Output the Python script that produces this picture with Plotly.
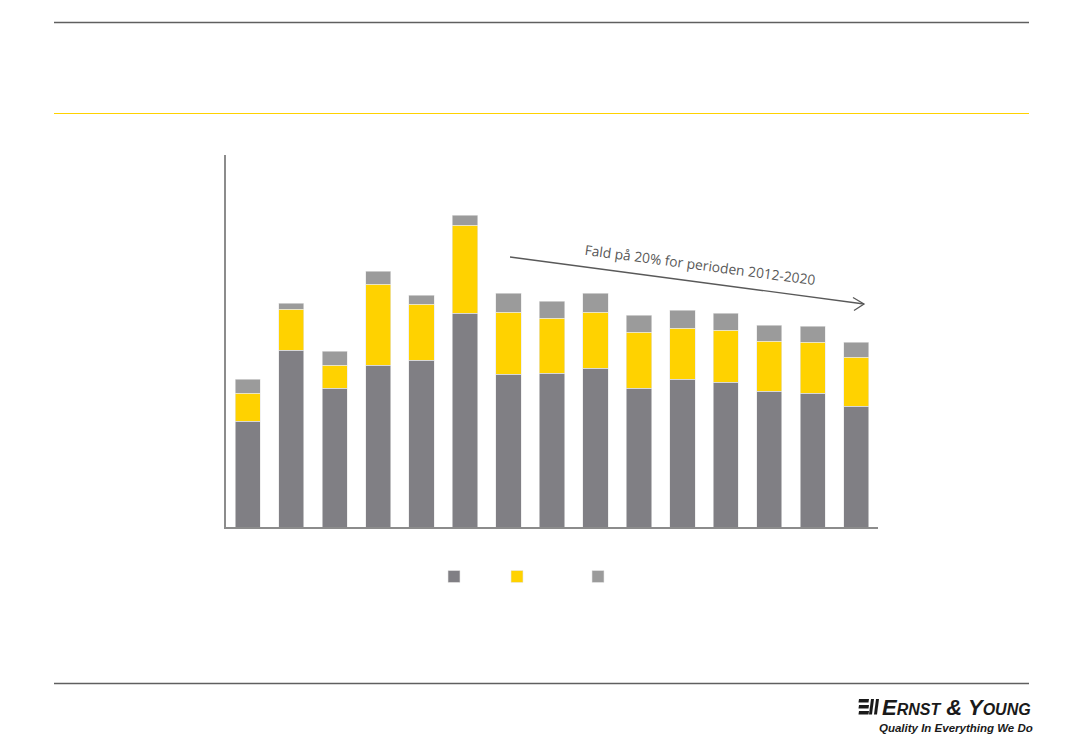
import plotly.graph_objects as go

# page offset of plotly div (body margin) is 8px
W, H = 1067, 734
PL, PR, PT, PB = 226, 878, 155, 527  # plot area in page pixels
PW, PH = PR - PL, PB - PT

years = [str(y) for y in range(2006, 2021)]
seg_dark = [106, 177, 139, 162, 167, 214, 153, 154, 159, 139, 148, 145, 136, 134, 121]
seg_yellow = [28, 41, 23, 81, 56, 88, 62, 55, 56, 56, 51, 52, 50, 51, 49]
seg_gray = [14, 6, 14, 13, 9, 10, 19, 17, 19, 17, 18, 17, 16, 16, 15]

series = [
    (" ", seg_dark, "#807f84", "legend"),
    (" ", seg_yellow, "#ffd200", "legend2"),
    (" ", seg_gray, "#9b9b9b", "legend3"),
]

fig = go.Figure()
for name, vals, col, lg in series:
    fig.add_trace(go.Bar(
        x=years, y=vals, name=name, legend=lg,
        marker=dict(color=col, line=dict(color="#e8e8e8", width=0.6)),
        hoverinfo="y",
    ))


def px(x):
    return (x - PL) / PW


def py(y):
    return (PB - y) / PH


shapes = []
# header / footer rules
shapes.append(dict(type="line", xref="paper", yref="paper", x0=px(54), x1=px(1029), y0=py(22.5), y1=py(22.5),
                   line=dict(color="#5f5f5f", width=1.5)))
shapes.append(dict(type="line", xref="paper", yref="paper", x0=px(54), x1=px(1029), y0=py(113.5), y1=py(113.5),
                   line=dict(color="#ffd200", width=1.2)))
shapes.append(dict(type="line", xref="paper", yref="paper", x0=px(54), x1=px(1029), y0=py(683.5), y1=py(683.5),
                   line=dict(color="#5f5f5f", width=1.5)))
# trend arrow
shapes.append(dict(type="line", xref="paper", yref="paper", x0=px(510), y0=py(257), x1=px(864), y1=py(304),
                   line=dict(color="#595959", width=1.3)))
shapes.append(dict(type="path", xref="paper", yref="paper",
                   path=f"M {px(853)},{py(297.5)} L {px(864)},{py(304)} L {px(854)},{py(310.5)}",
                   line=dict(color="#595959", width=1.3)))
# EY logo mark
for yy in [699, 705, 711]:
    shapes.append(dict(type="path", xref="paper", yref="paper",
                       path=f"M {px(859)},{py(yy)} L {px(869)},{py(yy)} L {px(868.5)},{py(yy+3.5)} L {px(858.5)},{py(yy+3.5)} Z",
                       fillcolor="#1a1a1a", line=dict(width=0)))
for xx in [869.5, 874.5]:
    shapes.append(dict(type="path", xref="paper", yref="paper",
                       path=f"M {px(xx+1.5)},{py(699)} L {px(xx+4.5)},{py(699)} L {px(xx+2.5)},{py(714.5)} L {px(xx-0.5)},{py(714.5)} Z",
                       fillcolor="#1a1a1a", line=dict(width=0)))

annotations = [
    dict(xref="paper", yref="paper", x=px(700), y=py(264), xanchor="center", yanchor="middle",
         text="Fald på 20% for perioden 2012-2020",
         showarrow=False, textangle=7.5, font=dict(family="Open Sans", size=13.8, color="#595959")),
    dict(xref="paper", yref="paper", x=px(880), y=py(707), xanchor="left", yanchor="middle",
         text="<b><i>E<span style='font-size:16px'>RNST</span> &amp; Y<span style='font-size:16px'>OUNG</span></i></b>",
         showarrow=False, font=dict(family="Liberation Sans", size=22, color="#1a1a1a")),
    dict(xref="paper", yref="paper", x=px(877), y=py(728), xanchor="left", yanchor="middle",
         text="<b><i>Quality In Everything We Do</i></b>",
         showarrow=False, font=dict(family="Liberation Sans", size=11.5, color="#1a1a1a")),
]

leg_common = dict(orientation="h", xanchor="left", yanchor="top", bgcolor="rgba(0,0,0,0)",
                  font=dict(size=10, color="#595959"), itemwidth=30)

fig.update_layout(
    width=W, height=H,
    margin=dict(l=PL - 8, r=W - (PR - 8), t=PT - 8, b=H - (PB - 8)),
    paper_bgcolor="white", plot_bgcolor="white",
    barmode="stack", bargap=0.42,
    showlegend=True,
    legend=dict(x=px(434), y=py(562), **leg_common),
    legend2=dict(x=px(497), y=py(562), **leg_common),
    legend3=dict(x=px(578), y=py(562), **leg_common),
    xaxis=dict(showticklabels=False, ticks="", showgrid=False, zeroline=False,
               showline=True, linecolor="#8c8c8c", linewidth=1.5),
    yaxis=dict(range=[0, 372], showticklabels=False, ticks="", showgrid=False, zeroline=False,
               showline=True, linecolor="#8c8c8c", linewidth=1.5),
    shapes=shapes,
    annotations=annotations,
    font=dict(family="Open Sans"),
)

fig.write_html("out.html")
